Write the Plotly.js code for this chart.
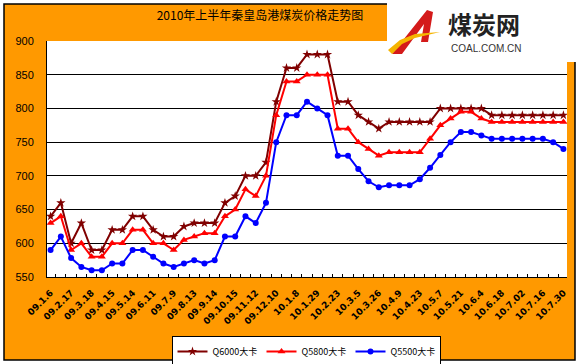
<!DOCTYPE html>
<html><head><meta charset="utf-8">
<script src="https://cdn.plot.ly/plotly-3.0.1.min.js"></script>
<style>html,body{margin:0;padding:0;background:#fff}#chart{width:579px;height:364px}</style>
</head><body><div id="chart"></div>
<script>
const categories = [
  "09.1.6","09.1.20","09.2.17","09.3.3","09.3.18","09.4.1","09.4.15","09.4.29",
  "09.5.14","09.5.28","09.6.11","09.6.25","09.7.9","09.7.23","09.8.13","09.8.27",
  "09.9.14","09.9.29","09.10.15","09.10.29","09.11.12","09.11.26","09.12.10","09.12.24",
  "10.1.8","10.1.15","10.1.29","10.2.5","10.2.23","10.2.28","10.3.5","10.3.15",
  "10.3.26","10.4.2","10.4.9","10.4.16","10.4.23","10.4.30","10.5.7","10.5.14",
  "10.5.21","10.5.28","10.6.4","10.6.11","10.6.18","10.6.25","10.7.02","10.7.09",
  "10.7.16","10.7.23","10.7.30"
];
const q6000 = [640,660,600,630,590,590,620,620,640,640,620,610,610,625,630,630,630,
  660,670,700,700,720,810,860,860,880,880,880,810,810,
  790,780,770,780,780,780,780,780,800,800,800,800,800,790,790,790,790,790,790,790,790];
const q5800 = [630,640,590,600,580,580,600,600,620,620,600,600,590,605,610,615,615,
  640,650,680,670,700,790,840,840,850,850,850,770,770,
  750,740,730,735,735,735,735,755,775,785,795,795,785,780,780,780,780,780,780,780,780];
const q5500 = [590,610,578,565,560,560,570,570,590,590,580,570,565,570,575,570,575,
  610,610,640,630,660,750,790,790,810,800,790,730,730,
  710,692,683,686,686,686,695,712,731,750,765,765,760,755,755,755,755,755,755,750,740];
const seriesNames = ["Q6000大卡","Q5800大卡","Q5500大卡"];
const yTicks = [550,600,650,700,750,800,850,900];
const titleText = "2010年上半年秦皇岛港煤炭价格走势图";
const logoText = "煤炭网";
const logoSub = "COAL.COM.CN";

const W=579,H=364,M={l:47,r:12,t:41,b:87,autoexpand:false};
const pw=W-M.l-M.r, ph=H-M.t-M.b;
const px=(x)=>(x-M.l)/pw, py=(y)=>(H-M.b-y)/ph;
const pathOf=(pts)=>'M '+pts.map(p=>px(p[0])+','+py(p[1])).join(' L ')+' Z';

const xr=[-0.35, categories.length-1+0.35];
const labelVals = categories.filter((c,i)=>i%2===0);
const boundaries = categories.slice(1).map((c,i)=>i+0.5);

const traces = [
  {x:categories,y:q6000,name:seriesNames[0],mode:'lines+markers',
   line:{color:'#800000',width:2},marker:{symbol:'star',size:7,color:'#800000'}},
  {x:categories,y:q5800,name:seriesNames[1],mode:'lines+markers',
   line:{color:'#FF0000',width:2},marker:{symbol:'triangle-up',size:7,color:'#FF0000'}},
  {x:categories,y:q5500,name:seriesNames[2],mode:'lines+markers',
   line:{color:'#0000FF',width:2},marker:{symbol:'circle',size:6,color:'#0000FF'}},
  {x:[],y:[],xaxis:'x2',showlegend:false,hoverinfo:'skip'}
];

const layout = {
  width:W,height:H,margin:M,
  paper_bgcolor:'#fff',plot_bgcolor:'rgba(0,0,0,0)',
  showlegend:true,
  title:{text:titleText,x:260/W,xanchor:'center',y:1-16/H,yanchor:'middle',
    font:{family:'Noto Sans CJK SC',size:12,color:'#000'}},
  xaxis:{type:'category',range:xr,tickmode:'array',tickvals:labelVals,ticktext:labelVals,
    tickangle:-45,tickfont:{family:'DejaVu Sans',size:9,color:'#000',weight:'bold'},
    ticklabelstandoff:6,
    showline:true,linecolor:'#000',linewidth:1,ticks:'',showgrid:false,zeroline:false},
  xaxis2:{overlaying:'x',anchor:'y',side:'bottom',type:'linear',range:xr,tickmode:'array',
    tickvals:boundaries,ticks:'inside',ticklen:3,tickcolor:'#000',showticklabels:false,
    showgrid:false,zeroline:false,showline:false},
  yaxis:{range:[550,900],tickmode:'array',tickvals:yTicks,showgrid:true,gridcolor:'#000',
    gridwidth:1,showline:true,linecolor:'#000',linewidth:1,ticks:'',zeroline:false,
    tickfont:{family:'Liberation Sans',size:11,color:'#000'},ticklabelstandoff:10},
  legend:{orientation:'h',xref:'container',yref:'container',x:306/W,xanchor:'center',
    y:1-336/H,yanchor:'top',
    bgcolor:'#fff',bordercolor:'#000',borderwidth:1,itemwidth:30,
    entrywidth:44,entrywidthmode:'pixels',
    font:{family:'Noto Sans CJK SC',size:9,color:'#000'}},
  shapes:[
    {type:'rect',xref:'paper',yref:'paper',layer:'below',x0:px(4),x1:px(575),y0:py(360),y1:py(4),
     fillcolor:'#FF9900',line:{color:'#000',width:1.5}},
    {type:'rect',xref:'paper',yref:'paper',layer:'below',x0:0,x1:1,y0:0,y1:1,
     fillcolor:'#fff',line:{width:0}},
    {type:'rect',xref:'paper',yref:'paper',layer:'below',x0:px(387),x1:px(579),y0:py(62),y1:py(0),
     fillcolor:'#fff',line:{width:0}},
    {type:'path',xref:'paper',yref:'paper',layer:'above',
     path:pathOf([[392,54],[427,10],[433,12],[428,42],[421,42],[424,24],[402,54]]),
     fillcolor:'#D41A1A',line:{width:0}},
    {type:'path',xref:'paper',yref:'paper',layer:'above',
     path:pathOf([[388,50],[400,40],[415,34],[440,32],[415,38],[402,44],[392,54]]),
     fillcolor:'#F5B400',line:{width:0}}
  ],
  annotations:[
    {xref:'paper',yref:'paper',x:px(484),y:py(24),text:'<b>'+logoText+'</b>',showarrow:false,
     xanchor:'center',yanchor:'middle',font:{family:'Noto Sans CJK SC',size:24,color:'#222'}},
    {xref:'paper',yref:'paper',x:px(486),y:py(48),text:logoSub,showarrow:false,
     xanchor:'center',yanchor:'middle',font:{family:'Liberation Sans',size:10,color:'#333'}}
  ]
};
Plotly.newPlot('chart',traces,layout,{displayModeBar:false,staticPlot:true});
</script></body></html>
